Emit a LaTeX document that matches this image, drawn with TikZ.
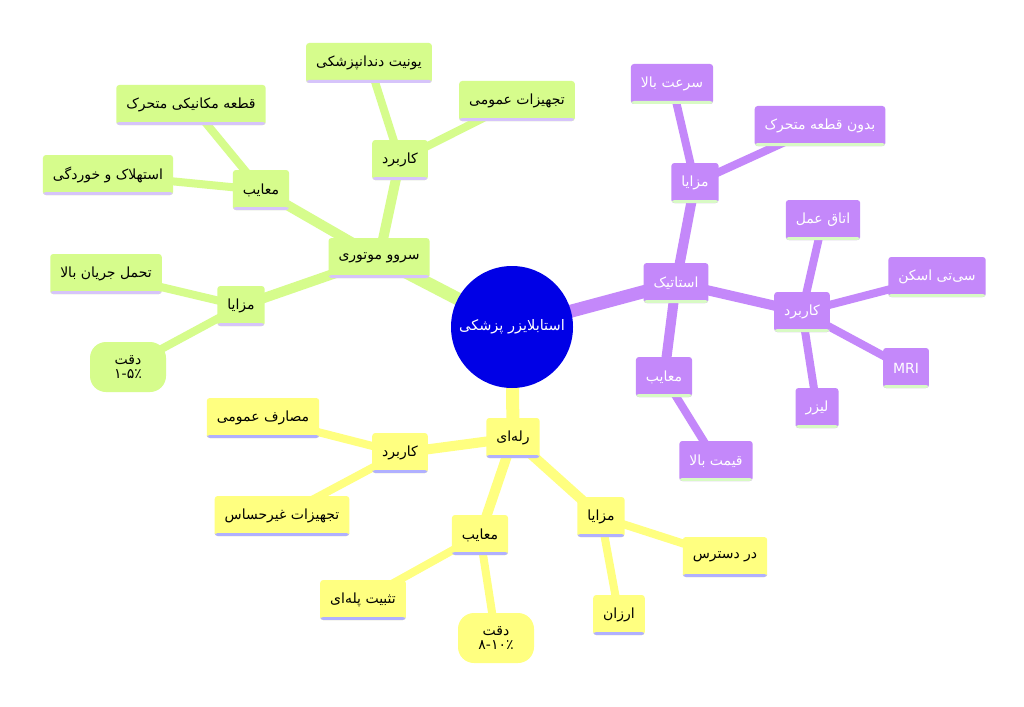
\documentclass[tikz,border=0pt]{standalone}
\usepackage{fontspec}
\newfontfamily\farsifont[Script=Arabic]{DejaVu Sans}
\TeXXeTstate=1
\usetikzlibrary{backgrounds}
\newcommand{\fatxt}[1]{\beginR #1\endR}
\definecolor{rootblue}{RGB}{0,0,230}
\definecolor{servogreen}{RGB}{214,252,140}
\definecolor{staticpurple}{RGB}{196,136,250}
\definecolor{relayyellow}{RGB}{255,255,128}
\definecolor{lavender}{RGB}{214,196,250}
\definecolor{palegreen}{RGB}{216,250,196}
\definecolor{periwinkle}{RGB}{176,176,255}

\begin{document}
\begin{tikzpicture}[x=1pt, y=-1pt,
  box/.style={rounded corners=3pt, minimum height=40pt, inner xsep=10pt,
    font=\farsifont\fontsize{14}{16}\selectfont,
    path picture={\fill[#1] ([yshift=3pt]path picture bounding box.south west)
      rectangle (path picture bounding box.south east);}},
  gbox/.style={box=lavender, fill=servogreen},
  pbox/.style={box=palegreen, fill=staticpurple, text=white},
  ybox/.style={box=periwinkle, fill=relayyellow},
  note/.style={rounded corners=16pt, minimum width=76pt, minimum height=50pt,
    align=center, inner sep=2pt, font=\farsifont\fontsize{14}{14}\selectfont},
  lvlone/.style={line width=13pt},
  lvltwo/.style={line width=10pt},
  lvlthree/.style={line width=8pt}]

\node [circle, fill=rootblue, minimum size=122pt, inner sep=0pt, text=white,
  font=\farsifont\fontsize{14.5}{16}\selectfont] (root) at (512,327) {\fatxt{استابلایزر پزشکی}};

\node [gbox] (servo) at (379,258) {\fatxt{سروو موتوری}};
\node [gbox] (servoapp) at (400,160) {\fatxt{کاربرد}};
\node [gbox] (dental) at (369,63) {\fatxt{یونیت دندانپزشکی}};
\node [gbox] (general) at (517,101) {\fatxt{تجهیزات عمومی}};
\node [gbox] (servocons) at (261,190) {\fatxt{معایب}};
\node [gbox] (moving) at (191,105) {\fatxt{قطعه مکانیکی متحرک}};
\node [gbox] (wear) at (108,175) {\fatxt{استهلاک و خوردگی}};
\node [gbox] (servoadv) at (241,306) {\fatxt{مزایا}};
\node [gbox] (current) at (106,274) {\fatxt{تحمل جریان بالا}};
\node [note, fill=servogreen] (servoacc) at (128,367) {\fatxt{دقت}\\۱\kern0pt-\kern0pt۵\kern0pt٪};

\node [pbox] (static) at (676,283) {\fatxt{استاتیک}};
\node [pbox] (staticadv) at (695,183) {\fatxt{مزایا}};
\node [pbox] (speed) at (672,84) {\fatxt{سرعت بالا}};
\node [pbox] (nomoving) at (820,126) {\fatxt{بدون قطعه متحرک}};
\node [pbox] (staticcons) at (664,377) {\fatxt{معایب}};
\node [pbox] (price) at (716,461) {\fatxt{قیمت بالا}};
\node [pbox] (staticapp) at (802,312) {\fatxt{کاربرد}};
\node [pbox] (surgery) at (823,220) {\fatxt{اتاق عمل}};
\node [pbox] (ctscan) at (937,277) {\fatxt{سی‌تی اسکن}};
\node [pbox] (mri) at (906,368) {MRI};
\node [pbox] (laser) at (817,408) {\fatxt{لیزر}};

\node [ybox] (relay) at (513,438) {\fatxt{رله‌ای}};
\node [ybox] (relayapp) at (400,453) {\fatxt{کاربرد}};
\node [ybox] (generaluse) at (263,418) {\fatxt{مصارف عمومی}};
\node [ybox] (nonsens) at (282,516) {\fatxt{تجهیزات غیرحساس}};
\node [ybox] (relaycons) at (480,535) {\fatxt{معایب}};
\node [ybox] (stepped) at (363,600) {\fatxt{تثبیت پله‌ای}};
\node [note, fill=relayyellow] (relayacc) at (496,638) {\fatxt{دقت}\\۸\kern0pt-\kern0pt۱۰\kern0pt٪};
\node [ybox] (relayadv) at (601,517) {\fatxt{مزایا}};
\node [ybox] (available) at (725,557) {\fatxt{در دسترس}};
\node [ybox] (cheap) at (619,615) {\fatxt{ارزان}};

\begin{pgfonlayer}{background}
\fill[white] (0,0) rectangle (1024,706);

\draw[servogreen, lvlone] (root.center) -- (servo.center);
\draw[servogreen, lvltwo] (servo.center) -- (servoapp.center);
\draw[servogreen, lvltwo] (servo.center) -- (servocons.center);
\draw[servogreen, lvltwo] (servo.center) -- (servoadv.center);
\draw[servogreen, lvlthree] (servoapp.center) -- (dental.center);
\draw[servogreen, lvlthree] (servoapp.center) -- (general.center);
\draw[servogreen, lvlthree] (servocons.center) -- (moving.center);
\draw[servogreen, lvlthree] (servocons.center) -- (wear.center);
\draw[servogreen, lvlthree] (servoadv.center) -- (current.center);
\draw[servogreen, lvlthree] (servoadv.center) -- (servoacc.center);

\draw[staticpurple, lvlone] (root.center) -- (static.center);
\draw[staticpurple, lvltwo] (static.center) -- (staticadv.center);
\draw[staticpurple, lvltwo] (static.center) -- (staticcons.center);
\draw[staticpurple, lvltwo] (static.center) -- (staticapp.center);
\draw[staticpurple, lvlthree] (staticadv.center) -- (speed.center);
\draw[staticpurple, lvlthree] (staticadv.center) -- (nomoving.center);
\draw[staticpurple, lvlthree] (staticcons.center) -- (price.center);
\draw[staticpurple, lvlthree] (staticapp.center) -- (surgery.center);
\draw[staticpurple, lvlthree] (staticapp.center) -- (ctscan.center);
\draw[staticpurple, lvlthree] (staticapp.center) -- (mri.center);
\draw[staticpurple, lvlthree] (staticapp.center) -- (laser.center);

\draw[relayyellow, lvlone] (root.center) -- (relay.center);
\draw[relayyellow, lvltwo] (relay.center) -- (relayapp.center);
\draw[relayyellow, lvltwo] (relay.center) -- (relaycons.center);
\draw[relayyellow, lvltwo] (relay.center) -- (relayadv.center);
\draw[relayyellow, lvlthree] (relayapp.center) -- (generaluse.center);
\draw[relayyellow, lvlthree] (relayapp.center) -- (nonsens.center);
\draw[relayyellow, lvlthree] (relaycons.center) -- (stepped.center);
\draw[relayyellow, lvlthree] (relaycons.center) -- (relayacc.center);
\draw[relayyellow, lvlthree] (relayadv.center) -- (available.center);
\draw[relayyellow, lvlthree] (relayadv.center) -- (cheap.center);
\end{pgfonlayer}

\useasboundingbox (0,0) rectangle (1024,706);
\end{tikzpicture}
\end{document}
